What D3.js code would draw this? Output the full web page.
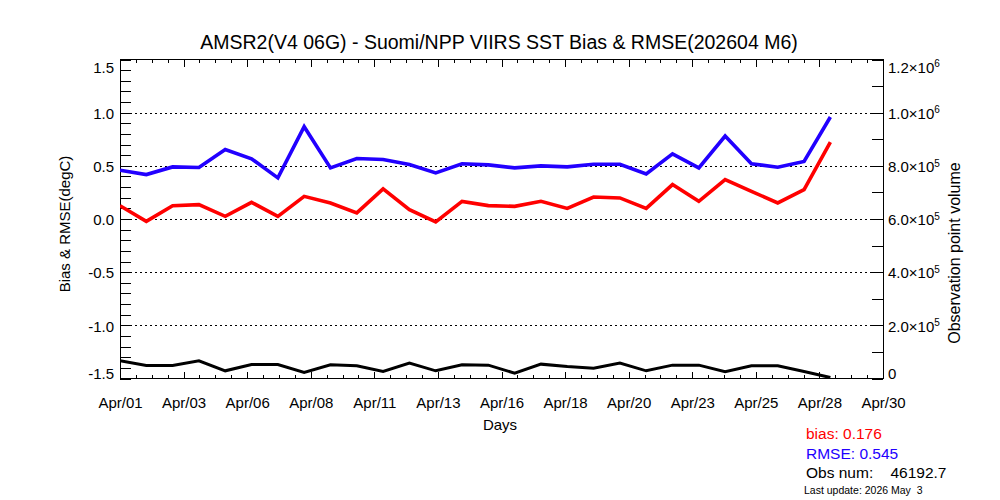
<!DOCTYPE html>
<html>
<head>
<meta charset="utf-8">
<script src="https://cdn.jsdelivr.net/npm/d3@7"></script>
<style>
  body { margin: 0; background: #fff; }
  svg { display: block; font-family: "Liberation Sans", Arial, Helvetica, sans-serif; }
  .axis path { display: none; }
  .axis line { stroke: #000; shape-rendering: crispEdges; }
  .axis text { fill: #000; font-size: 15px; }
</style>
</head>
<body>
<svg id="chart" width="1000" height="500"></svg>
<script>
'use strict';

// daily values, Apr 1 .. Apr 28 (2026)
var days = d3.range(1, 29);
var bias = [0.125, -0.022, 0.125, 0.135, 0.025, 0.157, 0.025, 0.213, 0.151, 0.057,
  0.283, 0.088, -0.028, 0.166, 0.126, 0.119, 0.166, 0.100, 0.207, 0.198,
  0.100, 0.324, 0.166, 0.371, 0.260, 0.151, 0.276, 0.723];
var rmse = [0.458, 0.418, 0.490, 0.484, 0.654, 0.566, 0.387, 0.868, 0.481, 0.569,
  0.559, 0.512, 0.434, 0.519, 0.509, 0.481, 0.500, 0.490, 0.515, 0.515,
  0.424, 0.613, 0.481, 0.780, 0.519, 0.487, 0.541, 0.959];
var obsCount = [66400, 48800, 48800, 66400, 28900, 52500, 52500, 22500, 51300, 47600,
  26300, 57700, 28900, 51300, 50300, 20300, 54000, 45000, 39000, 57800,
  28900, 50300, 50300, 25100, 47600, 47600, 26300, 3700];

var dayLabels = ['Apr/01', 'Apr/03', 'Apr/06', 'Apr/08', 'Apr/11', 'Apr/13', 'Apr/16',
  'Apr/18', 'Apr/20', 'Apr/23', 'Apr/25', 'Apr/28', 'Apr/30'];
var biasTicks = [-1.5, -1.0, -0.5, 0.0, 0.5, 1.0, 1.5];
var gridTicks = [-1.0, -0.5, 0.0, 0.5, 1.0];
var obsTicks = [0, 2e5, 4e5, 6e5, 8e5, 1e6, 1.2e6];
var obsTickLabels = [['0', ''], ['2.0\u00d710', '5'], ['4.0\u00d710', '5'], ['6.0\u00d710', '5'],
  ['8.0\u00d710', '5'], ['1.0\u00d710', '6'], ['1.2\u00d710', '6']];
var statLabels = ['bias: 0.176', 'RMSE: 0.545', 'Obs num:    46192.7'];

var title = 'AMSR2(V4 06G) - Suomi/NPP VIIRS SST Bias & RMSE(202604 M6)';
var BLUE = '#2200ff', RED = '#ff0000';

var plotL = 120, plotR = 883, plotT = 59.5, plotB = 378.5;
var svg = d3.select('#chart');

svg.append('rect').attr('width', 1000).attr('height', 500).attr('fill', '#fff');

var x = d3.scaleLinear().domain([1, 30]).range([plotL, plotR]);
var yBias = d3.scaleLinear().domain([-1.5, 1.5]).range([plotB, plotT]);
var yObs = d3.scaleLinear().domain([0, 1.2e6]).range([plotB, plotT]);

// x ticks: 12 major intervals, 4 minor per major
var majorX = d3.range(13).map(i => 1 + i * 29 / 12);
var minorX = d3.range(49).map(i => 1 + i * 29 / 48);

function xAxis (g, axisFn, size, values, labels) {
  var ax = axisFn(x).tickValues(values).tickSize(-size).tickPadding(19)
    .tickFormat(labels ? (d, i) => labels[i] : '');
  g.call(ax);
}

var gb = svg.append('g').attr('class', 'axis').attr('transform', `translate(0,${plotB})`);
gb.append('g').call(g => xAxis(g, d3.axisBottom, 3.5, minorX));
gb.append('g').call(g => xAxis(g, d3.axisBottom, 7, majorX, dayLabels));

var gt = svg.append('g').attr('class', 'axis').attr('transform', `translate(0,${plotT})`);
gt.append('g').call(g => xAxis(g, d3.axisTop, 3.5, minorX));
gt.append('g').call(g => xAxis(g, d3.axisTop, 7, majorX));

// left axis (bias & rmse)
var gl = svg.append('g').attr('class', 'axis').attr('transform', `translate(${plotL},0)`);
gl.append('g').call(d3.axisLeft(yBias).tickValues(d3.range(31).map(i => -1.5 + i * 0.1))
  .tickSize(-11).tickFormat(''));
gl.append('g').call(d3.axisLeft(yBias).tickValues(biasTicks).tickSize(-11).tickPadding(6)
  .tickFormat(d => d.toFixed(1)))
  .selectAll('.tick text')
  .attr('y', d => d === 1.5 ? 8 : d === -1.5 ? -5 : 1);

// right axis (observation count)
var gr = svg.append('g').attr('class', 'axis').attr('transform', `translate(${plotR},0)`);
gr.append('g').call(d3.axisRight(yObs).tickValues(d3.range(13).map(i => i * 1e5))
  .tickSize(-11).tickFormat(''));
gr.append('g').call(d3.axisRight(yObs).tickValues(obsTicks).tickSize(-11).tickPadding(5)
  .tickFormat(''))
  .selectAll('.tick text')
  .attr('y', d => d === 1.2e6 ? 8 : d === 0 ? -5 : 1)
  .each(function (d, i) {
    var t = d3.select(this);
    t.text(obsTickLabels[i][0]);
    t.append('tspan').attr('dy', '-0.55em').attr('font-size', '10px').text(obsTickLabels[i][1]);
  });

// dotted grid lines
svg.append('g').selectAll('line').data(gridTicks).join('line')
  .attr('x1', plotL).attr('x2', plotR)
  .attr('y1', d => Math.round(yBias(d)) + 0.5).attr('y2', d => Math.round(yBias(d)) + 0.5)
  .attr('stroke', '#000').attr('stroke-width', 1).attr('stroke-dasharray', '2,3')
  .attr('shape-rendering', 'crispEdges');

// frame
svg.append('rect').attr('x', plotL).attr('y', plotT)
  .attr('width', plotR - plotL).attr('height', plotB - plotT)
  .attr('fill', 'none').attr('stroke', '#000').attr('shape-rendering', 'crispEdges');

svg.append('clipPath').attr('id', 'plot-clip').append('rect')
  .attr('x', plotL).attr('y', plotT).attr('width', plotR - plotL).attr('height', plotB - plotT);

var plot = svg.append('g').attr('clip-path', 'url(#plot-clip)');

function addLine (values, scale, color, width) {
  var line = d3.line().x((d, i) => x(days[i])).y(d => scale(d));
  plot.append('path').datum(values)
    .attr('d', line)
    .attr('fill', 'none').attr('stroke', color).attr('stroke-width', width)
    .attr('stroke-linejoin', 'miter');
}

addLine(rmse, yBias, BLUE, 3.6);
addLine(bias, yBias, RED, 3.6);
addLine(obsCount, yObs, '#000', 3);

// titles
svg.append('text').attr('x', 499).attr('y', 49).attr('text-anchor', 'middle')
  .attr('font-size', '19.5px').text(title);
svg.append('text').attr('x', 500).attr('y', 430).attr('text-anchor', 'middle')
  .attr('font-size', '15px').text('Days');
svg.append('text').attr('transform', 'translate(70,224) rotate(-90)').attr('text-anchor', 'middle')
  .attr('font-size', '15px').text('Bias & RMSE(degC)');
svg.append('text').attr('transform', 'translate(960,253) rotate(-90)').attr('text-anchor', 'middle')
  .attr('font-size', '16px').text('Observation point volume');

// summary stats
var statColors = [RED, BLUE, '#000'];
svg.append('g').selectAll('text').data(statLabels).join('text')
  .attr('x', 806).attr('y', (d, i) => 439 + i * 19.5)
  .attr('font-size', '15.5px').attr('fill', (d, i) => statColors[i])
  .style('white-space', 'pre')
  .text(d => d);
svg.append('text').attr('x', 804).attr('y', 494).attr('font-size', '10.5px')
  .style('white-space', 'pre').text('Last update: 2026 May  3');
</script>
</body>
</html>
